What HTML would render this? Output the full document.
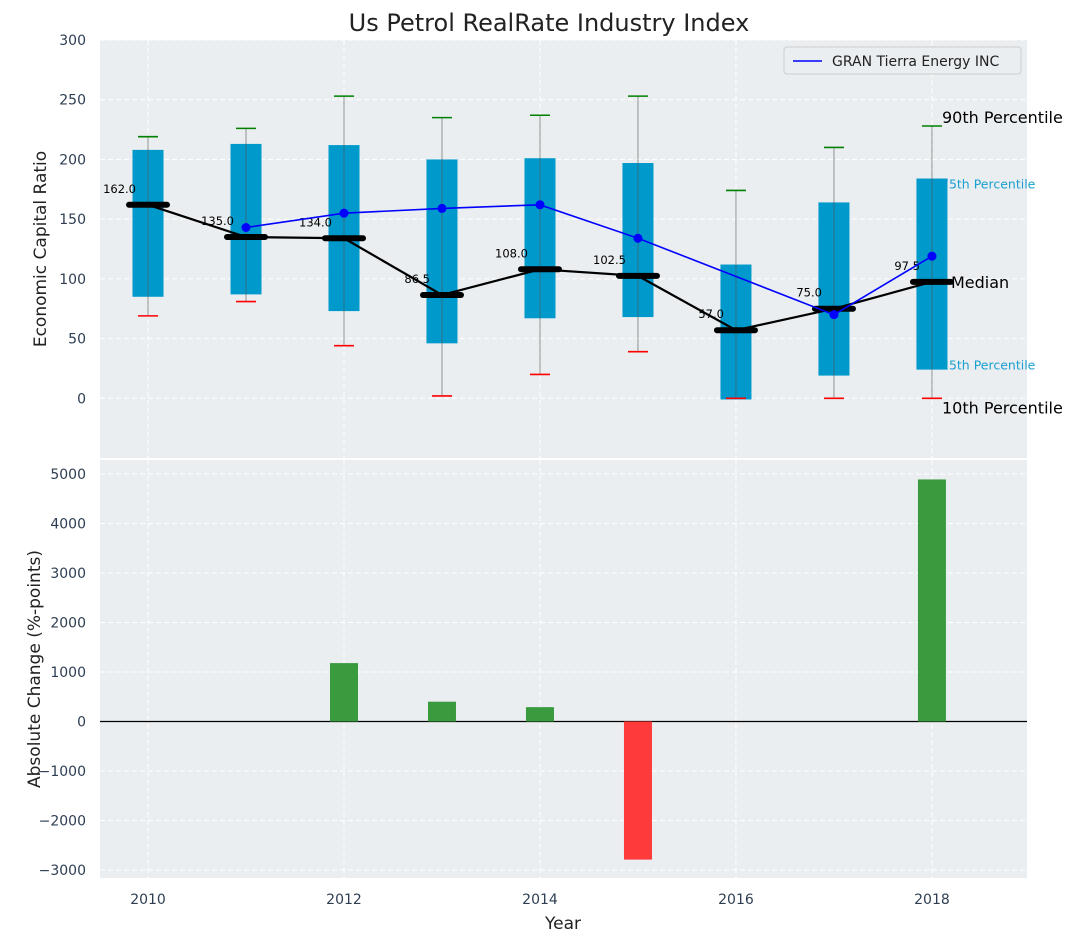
<!DOCTYPE html>
<html><head><meta charset="utf-8">
<style>
html,body{margin:0;padding:0;background:#fff;}
svg{display:block;font-family:"DejaVu Sans","Liberation Sans",sans-serif;}
</style></head>
<body>
<svg id="c" width="1077" height="942" xmlns="http://www.w3.org/2000/svg"></svg>
<script>
const years=[2010,2011,2012,2013,2014,2015,2016,2017,2018];
const p10=[69,81,44,2,20,39,0,0,0];
const p25=[85,87,73,46,67,68,-1,19,24];
const med=[162,135,134,86.5,108,102.5,57,75,97.5];
const p75=[208,213,212,200,201,197,112,164,184];
const p90=[219,226,253,235,237,253,174,210,228];
const compYears=[2011,2012,2013,2014,2015,2017,2018];
const compVals=[143,155,159,162,134,70,119];
const changeYears=[2012,2013,2014,2015,2018];
const changeVals=[1180,400,290,-2790,4890];
const yTicksTop=[0,50,100,150,200,250,300];
const yTicksBot=[-3000,-2000,-1000,0,1000,2000,3000,4000,5000];
const xTicks=[2010,2012,2014,2016,2018];

const svg=document.getElementById('c');
const NS='http://www.w3.org/2000/svg';
function el(t,a,p){const e=document.createElementNS(NS,t);for(const k in a)e.setAttribute(k,a[k]);(p||svg).appendChild(e);return e;}
const L=100,R=1027;
const x=v=>L+(v-2009.51)/(2018.97-2009.51)*(R-L);
const T1=40,B1=458,yt=v=>T1+(300-v)/350*(B1-T1);
const T2=460,B2=878,yb=v=>721.5-v*0.0495;

let e=el('rect',{x:L,y:T1,width:R-L,height:B1-T1,fill:'#eaeef0'});

e=el('rect',{x:L,y:T2,width:R-L,height:B2-T2,fill:'#eaeef0'});


for(const v of yTicksTop){el('line',{x1:L,x2:R,y1:yt(v),y2:yt(v),stroke:'#fff','stroke-dasharray':'5,3','stroke-width':1});
 e=el('text',{x:L-14,y:yt(v)+5,'text-anchor':'end','font-size':14,fill:'#2e3e52'});e.textContent=v;
 }
for(const v of yTicksBot){el('line',{x1:L,x2:R,y1:yb(v),y2:yb(v),stroke:'#fff','stroke-dasharray':'5,3','stroke-width':1});
 e=el('text',{x:L-14,y:yb(v)+5,'text-anchor':'end','font-size':14,fill:'#2e3e52'});e.textContent=(v<0?'\u2212'+(-v):v);
 }
for(const v of xTicks){el('line',{x1:x(v),x2:x(v),y1:T1,y2:B1,stroke:'#fff','stroke-dasharray':'5,3'});
 el('line',{x1:x(v),x2:x(v),y1:T2,y2:B2,stroke:'#fff','stroke-dasharray':'5,3'});
 e=el('text',{x:x(v),y:904,'text-anchor':'middle','font-size':14,fill:'#2e3e52'});e.textContent=v;
 }

const ann=[['90th Percentile',942,p90[8],16,'#000',3],['75th Percentile',941,p75[8],12.5,'#1a9fd0',-10],['25th Percentile',941,p25[8],12.5,'#1a9fd0',0],['10th Percentile',942,p10[8],16,'#000',-15]];
for(const a of ann){e=el('text',{x:a[1],y:yt(a[2])-a[5],'font-size':a[3],fill:a[4]});e.textContent=a[0];
 }

years.forEach((yr,i)=>{
 const cx=x(yr);
 e=el('rect',{x:cx-15.5,y:yt(p75[i]),width:31,height:yt(p25[i])-yt(p75[i]),fill:'#0099cc'});
 
 el('line',{x1:cx,x2:cx,y1:yt(p90[i]),y2:yt(p10[i]),stroke:'#555','stroke-opacity':0.6,'stroke-width':1});
 el('line',{x1:cx-10,x2:cx+10,y1:yt(p90[i]),y2:yt(p90[i]),stroke:'#008000','stroke-width':1.6});
 el('line',{x1:cx-10,x2:cx+10,y1:yt(p10[i]),y2:yt(p10[i]),stroke:'#ff0000','stroke-width':1.6});
});
e=el('polyline',{points:years.map((yr,i)=>x(yr)+','+yt(med[i])).join(' '),fill:'none',stroke:'#000','stroke-width':2.2});

years.forEach((yr,i)=>{
 const cx=x(yr);
 e=el('line',{x1:cx-19,x2:cx+19,y1:yt(med[i]),y2:yt(med[i]),stroke:'#000','stroke-width':6,'stroke-linecap':'round'});
 
 e=el('text',{x:cx-12,y:yt(med[i])-12,'text-anchor':'end','font-size':11.5,fill:'#000'});e.textContent=med[i].toFixed(1);
 
});
e=el('text',{x:951,y:yt(med[8])+6,'font-size':16,fill:'#000'});e.textContent='Median';

e=el('polyline',{points:compYears.map((yr,i)=>x(yr)+','+yt(compVals[i])).join(' '),fill:'none',stroke:'#0000ff','stroke-width':1.6});

compYears.forEach((yr,i)=>{e=el('circle',{cx:x(yr),cy:yt(compVals[i]),r:4.5,fill:'#0000ff'});
 });

el('line',{x1:L,x2:R,y1:yb(0),y2:yb(0),stroke:'#000','stroke-width':1.2});
changeYears.forEach((yr,i)=>{const v=changeVals[i];
 e=el('rect',{x:x(yr)-14,y:Math.min(yb(v),yb(0)),width:28,height:Math.abs(yb(v)-yb(0)),fill:v>=0?'#3a9b3e':'#ff3a3a'});
 });

const lg=el('g',{});
el('rect',{x:784,y:47,width:237,height:27,rx:3,fill:'#eaeef0',stroke:'#ccc'},lg);
el('line',{x1:793,x2:822,y1:61,y2:61,stroke:'#0000ff','stroke-width':1.6},lg);
e=el('text',{x:832,y:66,'font-size':14,fill:'#222'},lg);e.textContent='GRAN Tierra Energy INC';

e=el('text',{x:549,y:31,'text-anchor':'middle','font-size':24,fill:'#222'});e.textContent='Us Petrol RealRate Industry Index';

e=el('text',{x:0,y:0,'text-anchor':'middle','font-size':17,fill:'#222',transform:'translate(46,249) rotate(-90)'});e.textContent='Economic Capital Ratio';

e=el('text',{x:0,y:0,'text-anchor':'middle','font-size':17,fill:'#222',transform:'translate(40,669) rotate(-90)'});e.textContent='Absolute Change (%-points)';

e=el('text',{x:563,y:929,'text-anchor':'middle','font-size':17,fill:'#222'});e.textContent='Year';

</script>
</body></html>
